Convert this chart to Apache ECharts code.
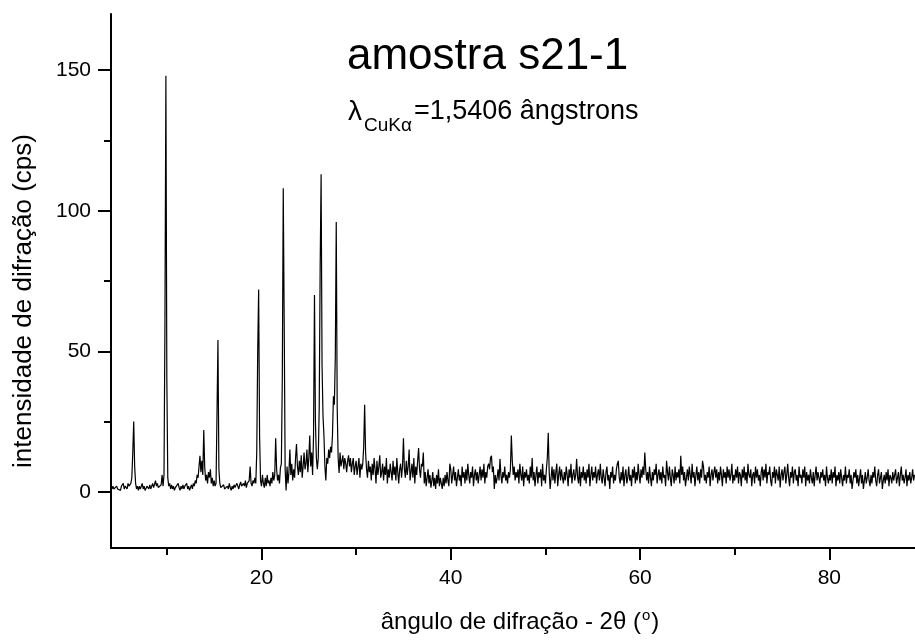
<!DOCTYPE html>
<html>
<head>
<meta charset="utf-8">
<script src="https://cdn.jsdelivr.net/npm/echarts@6/dist/echarts.min.js"></script>
<style>
  html, body { margin: 0; padding: 0; background: #fff; }
  #chart { width: 915px; height: 641px; }
</style>
</head>
<body>
<div id="chart"></div>
<script>
// Diffractogram of sample s21-1, Cu K-alpha radiation.
// Intensities recorded every 0.1 degree of 2-theta, starting at 4.2 degrees.
const START_ANGLE = 4.2;
const STEP = 0.1;

const intensity = [
  /* 4.2 */ 1, 2, 1, 0.5, 1.5, 2, 1, 1.5,
  /* 5  */ 1, 0.5, 2, 1.5, 3, 1, 2, 2.5, 1, 3,
  /* 6  */ 2, 1.5, 3, 5, 14, 25, 9, 3, 1, 2,
  /* 7  */ 0.5, 2, 1, 1.5, 3, 1, 2, 0.5, 1, 2,
  /* 8  */ 1.5, 1, 2.5, 1, 2, 3, 1.5, 2, 4, 2,
  /* 9  */ 3, 1.5, 2, 1, 2.5, 6, 2, 6, 60, 148,
  /* 10 */ 40, 5, 2, 3, 1, 2.5, 1, 2, 0.5, 1.5,
  /* 11 */ 2, 1, 3, 1.5, 0.5, 2, 1, 2.5, 1, 2,
  /* 12 */ 1.5, 3, 1, 2, 0.5, 1.5, 2.5, 1, 3, 2,
  /* 13 */ 4, 3, 6, 5, 9, 12.8, 7, 11, 6, 22,
  /* 14 */ 9, 4, 6, 3, 7, 5, 8, 3, 5, 2,
  /* 15 */ 4, 2, 3, 28, 54, 8, 3, 1.5, 2, 1,
  /* 16 */ 2.5, 1, 1.5, 0.5, 2, 1, 3, 1.5, 0.5, 2,
  /* 17 */ 1, 2.5, 1.5, 1, 3, 2, 1, 2.5, 3.5, 2,
  /* 18 */ 1.5, 3, 2, 4, 1.5, 3, 2.5, 4, 9, 3,
  /* 19 */ 2, 4, 3, 5, 3, 14, 50, 72, 20, 4,
  /* 20 */ 2, 6, 3, 1.5, 5, 2, 6, 3, 4, 2,
  /* 21 */ 5, 3, 7, 4, 6, 19, 8, 4, 6, 3,
  /* 22 */ 8.5, 10, 40, 108, 60, 8, 0.5, 9, 3, 7,
  /* 23 */ 15, 6, 10, 4, 8, 5, 12, 17, 9, 6,
  /* 24 */ 11, 7, 13, 5, 9, 14, 8, 10, 15, 7,
  /* 25 */ 12, 20, 9, 14, 6, 20, 70, 25, 12, 8,
  /* 26 */ 12, 30, 80, 113, 45, 27, 20, 9, 4, 12,
  /* 27 */ 10, 15, 12, 16, 14, 20, 34, 31, 48, 96,
  /* 28 */ 30, 12, 6.7, 14, 9, 11, 13, 8, 12, 10,
  /* 29 */ 7, 11, 13, 9, 12, 7, 10, 12, 6, 9,
  /* 30 */ 11, 6, 9, 12, 5, 10, 8, 10, 16, 31,
  /* 31 */ 14, 8, 5, 11, 7, 9, 4, 10, 6, 12,
  /* 32 */ 8, 3, 11, 6, 9, 13, 5, 7, 10, 4,
  /* 33 */ 9, 6, 12, 3, 8, 5, 10, 7, 4, 11,
  /* 34 */ 6, 9, 4, 12, 7, 3, 8, 10, 5, 9,
  /* 35 */ 19, 8, 5, 11, 6, 9, 15, 4, 7, 10,
  /* 36 */ 5, 12, 3, 9, 6, 11, 15.6, 8, 5, 10,
  /* 37 */ 9, 14, 3, 7, 2, 5, 8, 3, 6, 1.5,
  /* 38 */ 4, 7, 2, 5, 1, 6, 3, 8, 2, 5,
  /* 39 */ 3, 1, 5, 2, 6, 3, 7, 4, 2, 10,
  /* 40 */ 8, 3, 6, 9, 4, 7, 2, 5, 8, 4,
  /* 41 */ 6, 2, 9, 5, 7, 3, 8, 4, 10, 6,
  /* 42 */ 3, 7, 5, 9, 2, 6, 8, 4, 7, 3,
  /* 43 */ 6, 9, 4, 8, 5, 10, 3, 7, 5, 9,
  /* 44 */ 10, 8, 12, 12.8, 7, 9, 1, 6, 3, 5,
  /* 45 */ 8, 4, 11.7, 6, 3, 7, 5, 9, 4, 6,
  /* 46 */ 3, 7, 5, 8, 20, 11, 6, 9, 4, 7,
  /* 47 */ 5, 8, 3, 10, 6, 4, 9, 2, 7, 5,
  /* 48 */ 8, 4, 6, 3, 9, 5, 12, 4, 7, 2,
  /* 49 */ 6, 9, 3, 7, 5, 8, 2, 10, 4, 6,
  /* 50 */ 3, 8, 12, 21, 7, 1, 5, 9, 4, 8,
  /* 51 */ 3, 7, 10, 2, 6, 9, 4, 8, 5, 3,
  /* 52 */ 7, 4, 9, 6, 2, 8, 5, 10, 3, 6,
  /* 53 */ 8, 4, 6, 11.7, 5, 3, 9, 2, 7, 5,
  /* 54 */ 9, 4, 7, 3, 8, 5, 10, 2, 6, 9,
  /* 55 */ 4, 7, 5, 9, 3, 6, 8, 4, 10, 5,
  /* 56 */ 3, 8, 5, 2, 7, 9, 4, 6, 1, 7,
  /* 57 */ 5, 9, 3, 6, 4, 8, 10, 11, 5, 3,
  /* 58 */ 7, 4, 9, 2, 6, 8, 3, 5, 9, 4,
  /* 59 */ 6, 2, 8, 5, 9, 3, 7, 4, 10, 6,
  /* 60 */ 3, 8, 5, 9, 6, 14, 8, 4, 7, 3,
  /* 61 */ 9, 5, 2, 7, 4, 8, 6, 10, 3, 6,
  /* 62 */ 8, 4, 7, 3, 9, 5, 6, 2, 11, 7,
  /* 63 */ 4, 9, 5, 2, 8, 6, 3, 9, 4, 7,
  /* 64 */ 5, 8, 3, 12.8, 6, 9, 4, 7, 2, 5,
  /* 65 */ 8, 4, 9, 6, 3, 10, 5, 7, 2, 6,
  /* 66 */ 9, 4, 7, 3, 8, 5, 11, 9, 4, 6,
  /* 67 */ 3, 7, 5, 9, 2, 6, 8, 4, 7, 9,
  /* 68 */ 5, 8, 3, 7, 4, 9, 6, 2, 8, 5,
  /* 69 */ 7, 3, 9, 5, 8, 4, 6, 10, 3, 6,
  /* 70 */ 4, 8, 5, 9, 3, 7, 6, 2, 8, 5,
  /* 71 */ 9, 4, 7, 3, 10, 6, 5, 8, 2, 6,
  /* 72 */ 7, 3, 9, 5, 8, 4, 6, 2, 7, 9,
  /* 73 */ 4, 8, 5, 10, 3, 7, 6, 9, 4, 2,
  /* 74 */ 7, 5, 9, 3, 8, 6, 4, 9, 1.5, 6,
  /* 75 */ 8, 4, 7, 9, 3, 6, 10, 5, 2, 7,
  /* 76 */ 5, 9, 3, 7, 8, 4, 6, 2, 9, 5,
  /* 77 */ 6, 3, 8, 5, 9, 2, 7, 4, 6, 3,
  /* 78 */ 8, 5, 3, 7, 2, 6, 9, 4, 7, 5,
  /* 79 */ 3, 7, 5, 8, 4, 6, 2, 9, 5, 3,
  /* 80 */ 6, 4, 8, 3, 7, 5, 9, 2, 6, 4,
  /* 81 */ 7, 3, 8, 5, 2, 6, 4, 9, 3, 6,
  /* 82 */ 5, 8, 3, 6, 1, 4, 7, 5, 8, 3,
  /* 83 */ 6, 2, 5, 8, 3, 6, 1, 4, 7, 3,
  /* 84 */ 5, 8, 4, 2, 6, 3, 7, 5, 9, 4,
  /* 85 */ 2, 6, 8, 3, 5, 7, 1, 4, 6, 3,
  /* 86 */ 7, 4, 8, 2, 6, 5, 3, 7, 4, 6,
  /* 87 */ 8, 3, 5, 7, 2, 6, 9, 4, 6, 3,
  /* 88 */ 5, 8, 2, 6, 4, 7, 3, 5, 8, 4,
  /* 89 */ 6
];

// Axis ticks and labels
const xMajorTicks = [20, 40, 60, 80];
const xMinorTicks = [10, 30, 50, 70];
const yMajorTicks = [0, 50, 100, 150];
const yMinorTicks = [25, 75, 125];

const X_MIN = 4.1, X_MAX = 89.05;
const Y_MIN = -20, Y_MAX = 170;

const points = intensity.map((v, i) => [+(START_ANGLE + i * STEP).toFixed(2), v]);

const FONT = '"Liberation Sans", Arial, sans-serif';
const axisColor = '#000';

const chart = echarts.init(document.getElementById('chart'), null, { renderer: 'canvas' });

const baseX = {
  type: 'value', min: X_MIN, max: X_MAX, position: 'bottom',
  splitLine: { show: false }
};
const baseY = {
  type: 'value', min: Y_MIN, max: Y_MAX, position: 'left',
  splitLine: { show: false }
};

chart.setOption({
  animation: false,
  backgroundColor: '#fff',
  grid: { left: 111, right: 0, top: 14, bottom: 93, containLabel: false },
  xAxis: [
    Object.assign({}, baseX, {
      axisLine: { show: true, onZero: false, lineStyle: { color: axisColor, width: 2 } },
      axisTick: { show: true, inside: false, length: 12, customValues: xMajorTicks,
                  lineStyle: { color: axisColor, width: 2 } },
      axisLabel: { show: true, margin: 20, customValues: xMajorTicks,
                   color: '#000', fontSize: 21, fontFamily: FONT }
    }),
    Object.assign({}, baseX, {
      axisLine: { show: false, onZero: false },
      axisTick: { show: true, inside: false, length: 7, customValues: xMinorTicks,
                  lineStyle: { color: axisColor, width: 2 } },
      axisLabel: { show: false }
    })
  ],
  yAxis: [
    Object.assign({}, baseY, {
      axisLine: { show: true, onZero: false, lineStyle: { color: axisColor, width: 2 } },
      axisTick: { show: true, inside: false, length: 13, customValues: yMajorTicks,
                  lineStyle: { color: axisColor, width: 2 } },
      axisLabel: { show: true, margin: 20, customValues: yMajorTicks,
                   color: '#000', fontSize: 21, fontFamily: FONT }
    }),
    Object.assign({}, baseY, {
      axisLine: { show: false, onZero: false },
      axisTick: { show: true, inside: false, length: 7, customValues: yMinorTicks,
                  lineStyle: { color: axisColor, width: 2 } },
      axisLabel: { show: false }
    })
  ],
  series: [{
    type: 'line',
    xAxisIndex: 0, yAxisIndex: 0,
    data: points,
    showSymbol: false,
    symbol: 'none',
    lineStyle: { color: '#000', width: 1.2 },
    silent: true
  }],
  graphic: [
    {
      type: 'text', left: 347, top: 35,
      style: { text: 'amostra s21-1', font: '44px ' + FONT, fill: '#000' }
    },
    {
      type: 'text', left: 348, top: 98,
      style: { text: 'λ', font: '28px ' + FONT, fill: '#000' }
    },
    {
      type: 'text', left: 364, top: 116,
      style: { text: 'CuKα', font: '19px ' + FONT, fill: '#000' }
    },
    {
      type: 'text', left: 414, top: 98,
      style: { text: '=1,5406 ângstrons', font: '27px ' + FONT, fill: '#000' }
    },
    {
      type: 'text', x: 24, y: 301, rotation: Math.PI / 2,
      style: { text: 'intensidade de difração (cps)', font: '26px ' + FONT, fill: '#000',
               align: 'center', verticalAlign: 'middle' }
    },
    {
      type: 'text', x: 520, y: 622,
      style: {
        text: '{a|ângulo de difração - 2θ (}{s|o}{a|)}',
        align: 'center', verticalAlign: 'middle',
        rich: {
          a: { font: '24px ' + FONT, fill: '#000', color: '#000', lineHeight: 28 },
          s: { font: '15px ' + FONT, fill: '#000', color: '#000', verticalAlign: 'top', lineHeight: 28, padding: [0, 1, 0, 1] }
        }
      }
    }
  ]
});
</script>
</body>
</html>
